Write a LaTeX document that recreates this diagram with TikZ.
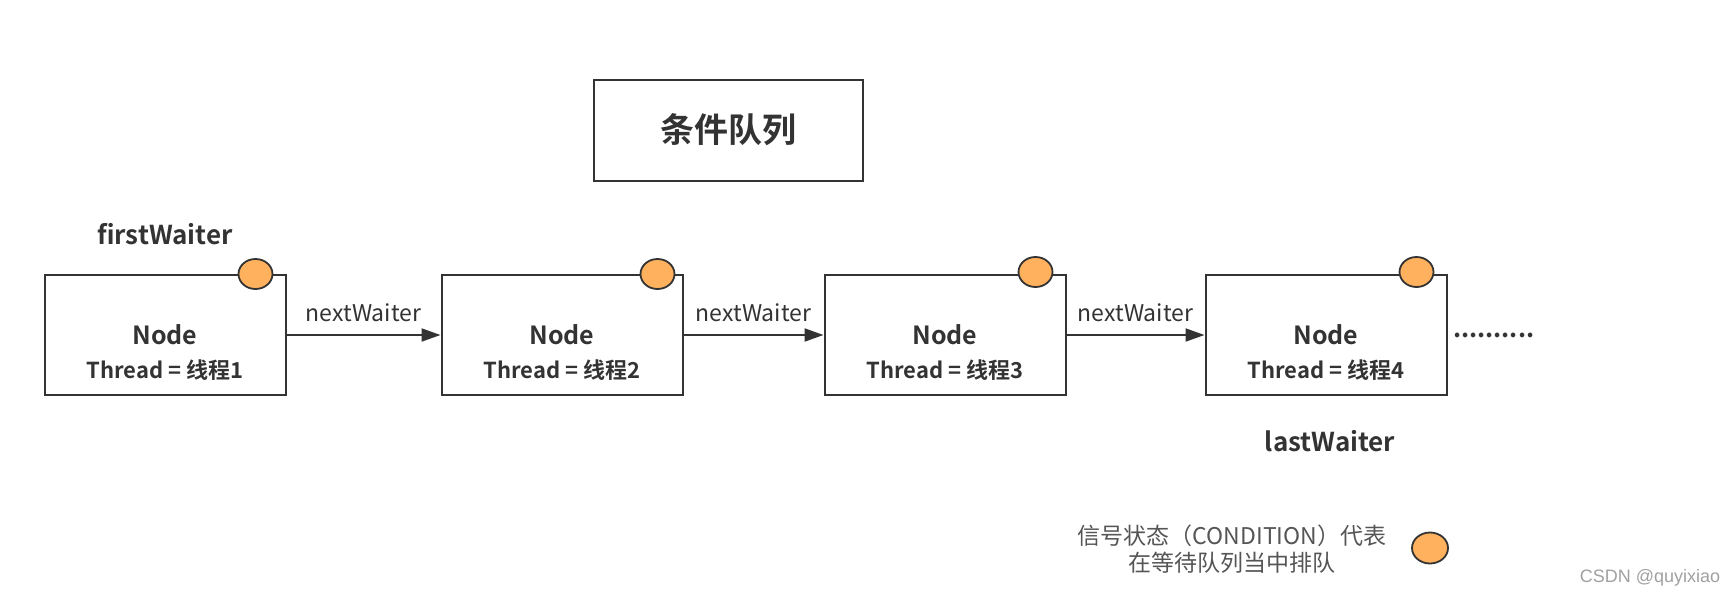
\documentclass[tikz,border=0pt]{standalone}
\usepackage{fontspec}
\setmainfont{Noto Sans CJK SC}[BoldFont={Noto Sans CJK SC Bold}]
\newfontfamily\markfont{Liberation Sans}
\usepackage{xcolor}
\usepackage{tikz}
\usetikzlibrary{shapes.geometric,arrows.meta,positioning,calc}

\definecolor{ink}{HTML}{333333}
\definecolor{grey}{HTML}{555555}
\definecolor{pale}{HTML}{A0A0A0}
\definecolor{amber}{HTML}{FFB15E}

\begin{document}
\begin{tikzpicture}[x=1pt, y=-1pt,
  box/.style={draw=ink, line width=2pt, rectangle, minimum width=241pt, minimum height=120pt},
  dot/.style={draw=ink, line width=1.8pt, fill=amber, ellipse, inner sep=0pt, minimum width=34pt, minimum height=30pt},
  head/.style={text=ink, font=\bfseries\fontsize{25}{30}\selectfont},
  sub/.style={text=ink, font=\bfseries\fontsize{22}{26}\selectfont},
  ptr/.style={text=ink, font=\bfseries\fontsize{26}{30}\selectfont},
  link/.style={draw=ink, line width=2pt, -{Triangle[length=19pt,width=13pt]}},
  tag/.style={text=ink, font=\fontsize{23}{27}\selectfont, inner sep=0pt}]
\useasboundingbox (0,0) rectangle (1736,600);

\node[box, minimum width=269pt, minimum height=101pt] (title) at (728,130) {};
\node[text=ink, font=\bfseries\fontsize{34}{39}\selectfont] (tname) at (title) {条件队列};

\node[box] (n1) at (165,335) {};
\node[box, right=154pt of n1] (n2) {};
\node[box, right=140pt of n2] (n3) {};
\node[box, right=138pt of n3] (n4) {};

\node[dot] (c1) at ([xshift=-31pt]n1.north east) {};
\node[dot] (c2) at ([xshift=-26pt]n2.north east) {};
\node[dot] (c3) at ([xshift=-31pt,yshift=2pt]n3.north east) {};
\node[dot] (c4) at ([xshift=-31pt,yshift=2pt]n4.north east) {};

\node[head] (h1) at (n1) {Node};
\node[sub] (s1) at ([yshift=-35pt]n1.center) {Thread = 线程1};
\node[head] (h2) at (n2) {Node};
\node[sub] (s2) at ([yshift=-35pt]n2.center) {Thread = 线程2};
\node[head] (h3) at (n3) {Node};
\node[sub] (s3) at ([yshift=-35pt]n3.center) {Thread = 线程3};
\node[head] (h4) at (n4) {Node};
\node[sub] (s4) at ([yshift=-35pt]n4.center) {Thread = 线程4};

\draw[link] (n1) -- node[tag, above=12pt] {nextWaiter} (n2);
\draw[link] (n2) -- node[tag, above=12pt] {nextWaiter} (n3);
\draw[link] (n3) -- node[tag, above=12pt] {nextWaiter} (n4);

\node[head, right=2pt of n4] (more) {..........};

\node[ptr] (first) at ([yshift=40pt]n1.north) {firstWaiter};
\node[ptr] (last) at ([xshift=4pt,yshift=-45pt]n4.south) {lastWaiter};

% legend
\node[text=grey, align=center, font=\fontsize{23}{27}\selectfont] (note) at (1232,549) {信号状态（CONDITION）代表\\在等待队列当中排队};
\node[dot, minimum width=36pt, minimum height=31pt] (key) at (1430,548) {};

\node[text=pale, font=\markfont\fontsize{18}{22}\selectfont] (mark) at (1650,578) {CSDN @quyixiao};
\end{tikzpicture}
\end{document}
